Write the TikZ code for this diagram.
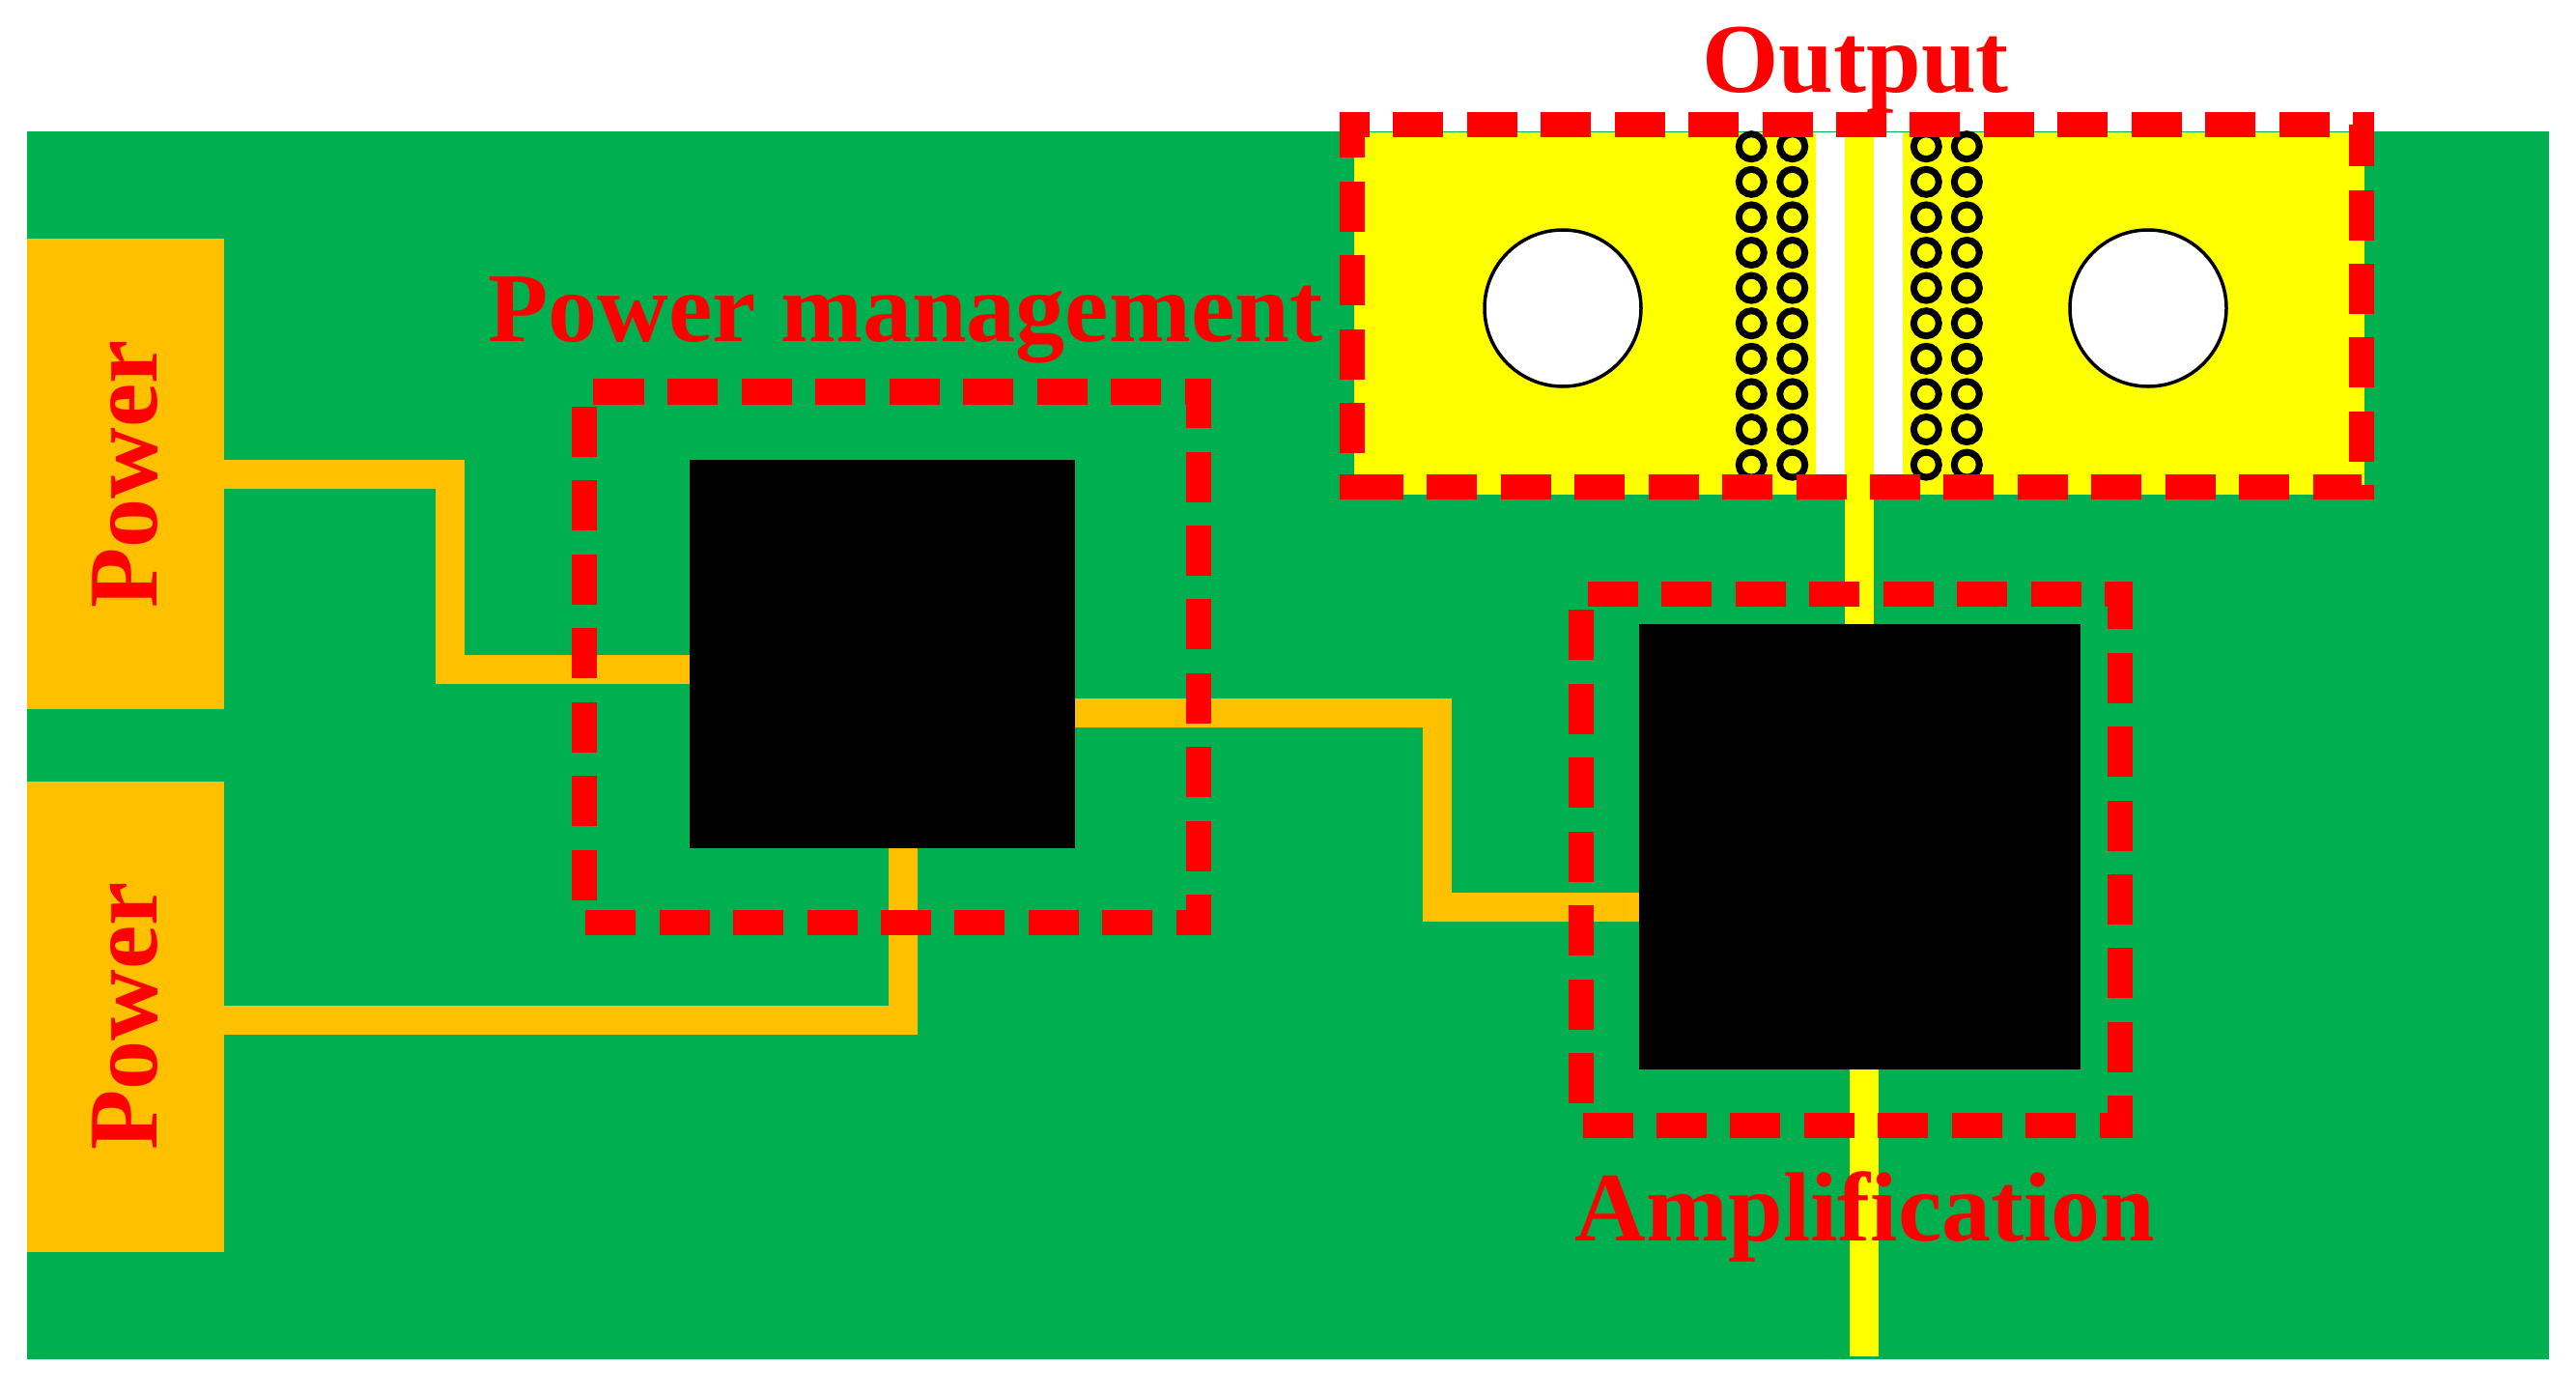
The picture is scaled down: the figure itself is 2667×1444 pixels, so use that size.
\documentclass[tikz,border=0pt]{standalone}
\usepackage{fontspec}
\setmainfont[Ligatures=NoCommon]{Liberation Serif}
\definecolor{boardgreen}{HTML}{00B050}
\definecolor{padorange}{HTML}{FFC000}
\definecolor{padyellow}{HTML}{FFFF00}
\definecolor{markred}{HTML}{FF0000}
\tikzset{
  powerbox/.style={fill=padorange, inner sep=0pt, minimum width=204pt, minimum height=487pt},
  chipbox/.style={fill=black, inner sep=0pt},
  trace/.style={padorange, line width=30pt},
  rftrace/.style={padyellow, line width=30pt},
  redbox/.style={markred, line width=26.5pt, dash pattern=on 52pt off 24.45pt},
  via/.style={draw=black, fill=padyellow, line width=7pt},
  hole/.style={draw=black, fill=white, line width=3.5pt},
  redlabel/.style={markred, anchor=base, inner sep=0pt, font=\fontsize{102}{110}\selectfont\bfseries}
}
\begin{document}
\begin{tikzpicture}[x=1pt, y=-1pt]
  \useasboundingbox (0,0) rectangle (2667,1444);
  \fill[boardgreen] (28,136) rectangle (2639,1407);
  \node[powerbox] (pwrA) at (130,490.5) {};
  \node[powerbox] (pwrB) at (130,1052.5) {};
  \node[chipbox, minimum width=399pt, minimum height=402pt] (chipA) at (913.5,677) {};
  \node[chipbox, minimum width=457pt, minimum height=461pt] (chipB) at (1925.5,876.5) {};
  \coordinate (bendA) at (466,693);
  \coordinate (bendB) at (1488,939);
  \coordinate (tapA) at (chipA.south -| 935,0);
  \draw[trace] (pwrA.east) -| (bendA) -- (chipA.west |- bendA);
  \draw[trace] (chipA.east |- 0,738) -| (bendB) -- (chipB.west |- bendB);
  \draw[trace] (pwrB.east |- 0,1056) -| (tapA);
  \fill[padyellow] (1402,137) rectangle (2448,512);
  \fill[white] (1880,137) rectangle (1910,512);
  \fill[white] (1940,137) rectangle (1970,512);
  \coordinate (padout) at (1925,505);
  \coordinate (rfout) at (1930,1404);
  \draw[rftrace] (padout) -- (chipB.north -| padout);
  \draw[rftrace] (chipB.south -| rfout) -- (rfout);
  \foreach \x in {1813.3,1855.7,1994.3,2036.3}
    \foreach \y in {0,...,9}
      \draw[via] (\x,151.7+36.6*\y) circle (13);
  \draw[hole] (1618,319) circle (81);
  \draw[hole] (2224,319) circle (81);
  \draw[redbox] (1400,469) -- (1400,129) -- (2445,129) -- (2445,504) -- (1400,504);
  \draw[markred, line width=26.5pt] (1415,504) -- (1387,504);
  \draw[redbox] (615,405.5) -- (1241,405.5) -- (1241,955) -- (605,955) -- (605,405.5) -- (615,405.5);
  \draw[redbox] (1644,615) -- (2195,615) -- (2195,1165) -- (1637,1165) -- (1637,615) -- (1644,615);
  \node[redlabel] (outlabel) at (1921,95) {Output};
  \node[redlabel] (mgmtlabel) at (937,353) {Power management};
  \node[redlabel] (amplabel) at (1931,1284) {Amplification};
  \node[redlabel, rotate=90] (pwrlabelA) at (162,491) {Power};
  \node[redlabel, rotate=90] (pwrlabelB) at (162,1052) {Power};
\end{tikzpicture}
\end{document}
